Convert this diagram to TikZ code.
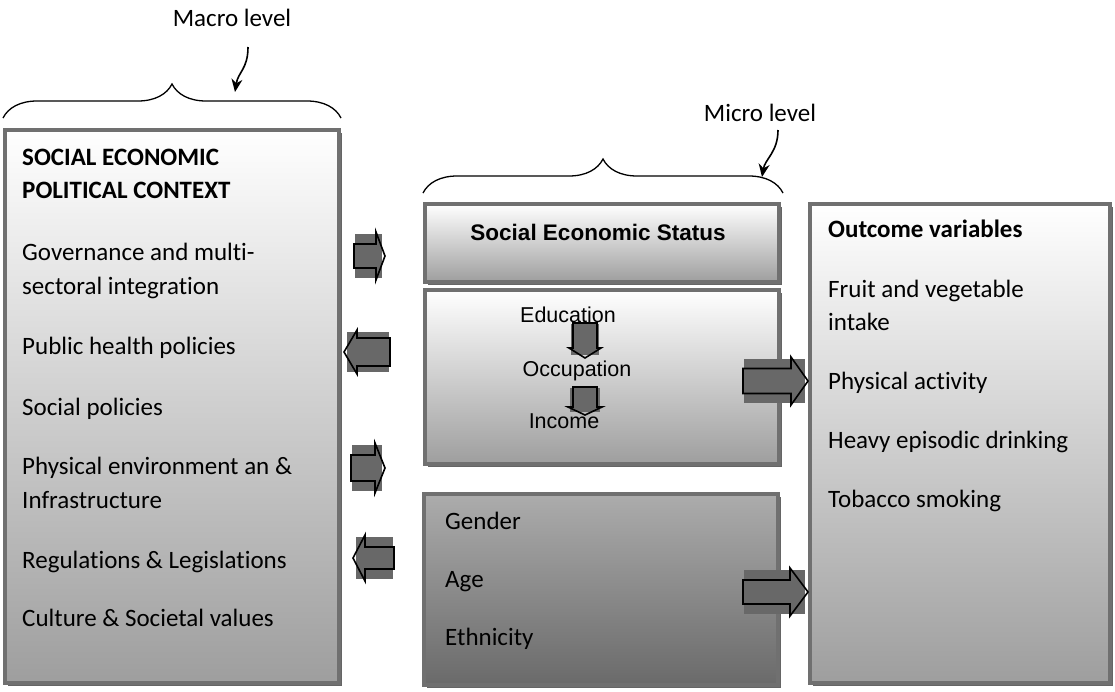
\documentclass[tikz,border=0pt]{standalone}
\usepackage{fontspec}
\setmainfont{Carlito}[Ligatures=NoCommon]
\newfontfamily\arialfont{Liberation Sans}
\usetikzlibrary{arrows.meta,decorations.pathreplacing,shadows}

\definecolor{boxline}{HTML}{707070}
\definecolor{boxshade}{HTML}{656565}
\definecolor{boxfoot}{HTML}{9E9E9E}
\definecolor{darktop}{HTML}{ACACAC}
\definecolor{darkfoot}{HTML}{6A6A6A}
\definecolor{arrowgray}{HTML}{686868}

\tikzset{
    panel/.style={draw=boxline,line width=4pt,inner sep=0pt,
        top color=white,bottom color=boxfoot,
        drop shadow={shadow xshift=3pt,shadow yshift=-3pt,opacity=1,fill=boxshade}},
    darkpanel/.style={panel,top color=darktop,bottom color=darkfoot},
    item/.style={anchor=base west,inner sep=0pt,font=\fontsize{25}{30}\selectfont},
    sesitem/.style={anchor=base,inner sep=0pt,font=\arialfont\fontsize{21.5}{26}\selectfont},
    levelbrace/.style={decorate,decoration={brace,amplitude=34pt},line width=1.3pt},
    curly/.style={line width=1.6pt,-{Stealth[length=13pt,width=11pt]}},
    % block arrow drawn along +x from its tail:
    % #1 length, #2 half shaft, #3 half head, #4 head length
    pics/fatarrow/.style n args={4}{code={
        \fill[arrowgray] (1,-#3+2) rectangle (#1-3,#3-2);
        \draw[line width=1.6pt,line join=miter] (0,-#2) -- (#1-#4,-#2) -- (#1-#4,-#3)
            -- (#1,0) -- (#1-#4,#3) -- (#1-#4,#2) -- (0,#2) -- cycle;
    }}
}

\begin{document}
\begin{tikzpicture}[x=1pt,y=-1pt]
    \useasboundingbox (0,0) rectangle (1115,691);

    %% boxes
    \node[panel,minimum width=334pt,minimum height=553pt] (ctx) at (172,406.5) {};
    \node[panel,minimum width=354pt,minimum height=78pt] (ses) at (602,243) {};
    \node[panel,minimum width=354pt,minimum height=174pt] (sesbox) at (602,377) {};
    \node[darkpanel,minimum width=354pt,minimum height=191pt] (demo) at (601,589.5) {};
    \node[panel,minimum width=300pt,minimum height=479pt] (outcome) at (960,443.5) {};

    %% macro / micro level
    \draw[levelbrace] (ctx.north west |- 0,118) -- (ctx.north east |- 0,118);
    \node[item,anchor=base] (macro) at (232,26) {Macro level};
    \coordinate (macfrom) at (248,47);
    \coordinate (macto) at (235,92);
    \draw[curly] (macfrom) .. controls +(0,22) and +(3,-20) .. (macto);

    \draw[levelbrace] (423,193) -- (783,193);
    \node[item,anchor=base] (micro) at (760,121) {Micro level};
    \coordinate (micfrom) at (778,130);
    \coordinate (micto) at (762,177);
    \draw[curly] (micfrom) .. controls +(0,22) and +(3,-18) .. (micto);

    %% left column
    \foreach \y/\t [count=\i] in {165/{\bfseries SOCIAL ECONOMIC},198/{\bfseries POLITICAL CONTEXT},
        260/Governance and multi-,294/sectoral integration,
        354/Public health policies,415/Social policies,
        474/Physical environment an \&,508/Infrastructure,
        568/Regulations \& Legislations,626/Culture \& Societal values}
        \node[item] (ctx\i) at (22,\y) {\t};

    %% social economic status
    \node[anchor=base,inner sep=0pt,font=\arialfont\bfseries\fontsize{22.5}{26}\selectfont]
        (sestitle) at (598,240) {Social Economic Status};
    \node[sesitem] (edu) at (568,322) {Education};
    \node[sesitem] (occ) at (577,376) {Occupation};
    \node[sesitem] (inc) at (564,428) {Income};

    \foreach \y/\t [count=\i] in {529/Gender,587/Age,645/Ethnicity}
        \node[item] (demo\i) at (445,\y) {\t};

    %% outcomes
    \foreach \y/\t [count=\i] in {237/{\bfseries Outcome variables},297/Fruit and vegetable,
        330/intake,389/Physical activity,448/Heavy episodic drinking,
        507/Tobacco smoking}
        \node[item] (out\i) at (828,\y) {\t};

    %% block arrows
    \pic (ar1) at (354,256) {fatarrow={31}{12}{24}{9}};
    \pic[rotate=180] (ar2) at (390,352) {fatarrow={46}{14}{22}{13}};
    \pic (ar3) at (351,468) {fatarrow={34}{13}{25}{10}};
    \pic[rotate=180] (ar4) at (394,558) {fatarrow={41}{11}{23}{12}};
    \pic (ar5) at (743,381) {fatarrow={65}{12.5}{24}{17}};
    \pic (ar6) at (743,592) {fatarrow={65}{12}{24}{18}};
    \pic[rotate=-90] (ar7) at (585,323) {fatarrow={35}{12}{16}{10}};
    \pic[rotate=-90] (ar8) at (585,387) {fatarrow={28}{12}{17}{8}};

\end{tikzpicture}
\end{document}
